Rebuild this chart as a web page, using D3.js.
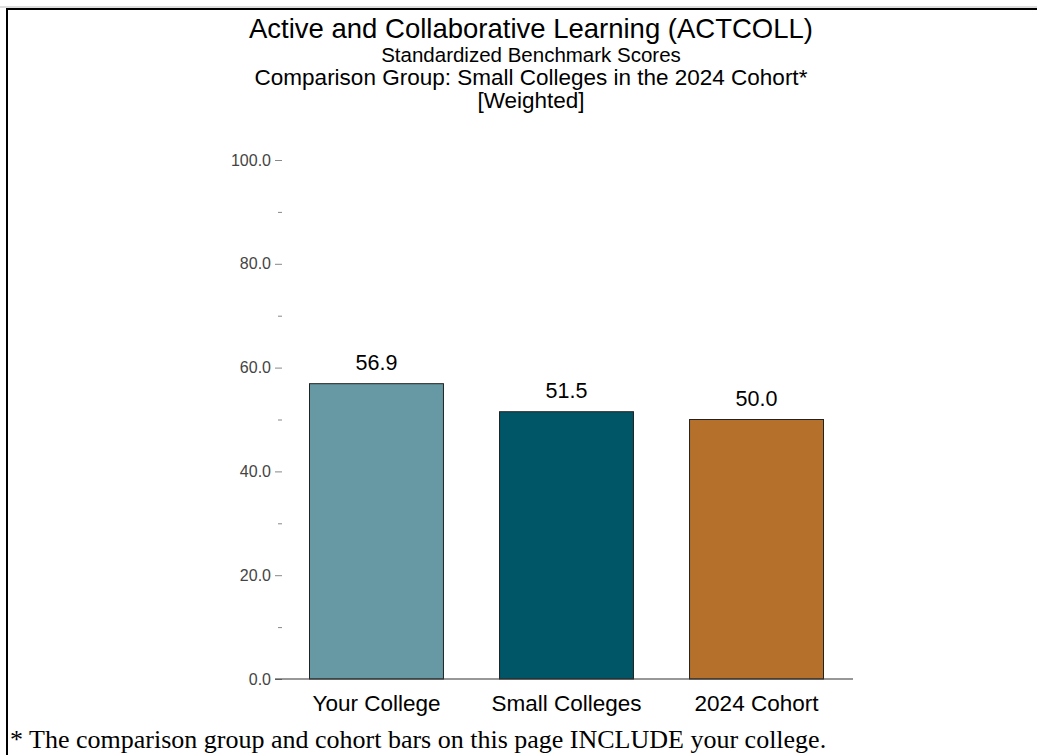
<!DOCTYPE html>
<html>
<head>
<meta charset="utf-8">
<script src="https://cdn.jsdelivr.net/npm/d3@7"></script>
<style>
  html, body { margin: 0; padding: 0; background: #fff; }
  svg { display: block; }
</style>
</head>
<body>
<svg id="chart" width="1037" height="755"></svg>
<script>
const categories = ["Your College", "Small Colleges", "2024 Cohort"];
const values = [56.9, 51.5, 50.0];
const colors = ["#6699a3", "#005566", "#b5702c"];
const majorTicks = [0, 20, 40, 60, 80, 100];
const minorTicks = [10, 30, 50, 70, 90];
const titleLines = [
  "Active and Collaborative Learning (ACTCOLL)",
  "Standardized Benchmark Scores",
  "Comparison Group: Small Colleges in the 2024 Cohort*",
  "[Weighted]"
];
const footnote = "* The comparison group and cohort bars on this page INCLUDE your college.";

const svg = d3.select("#chart");
const sans = "'Liberation Sans', Arial, sans-serif";

// frame
svg.append("line").attr("x1", 0).attr("x2", 1037).attr("y1", 7).attr("y2", 7)
  .attr("stroke", "#bbb").attr("stroke-width", 1);
svg.append("line").attr("x1", 6).attr("x2", 1037).attr("y1", 9).attr("y2", 9)
  .attr("stroke", "#000").attr("stroke-width", 2);
svg.append("line").attr("x1", 7).attr("x2", 7).attr("y1", 8).attr("y2", 755)
  .attr("stroke", "#000").attr("stroke-width", 2);

// titles
const titleY = [38, 62, 85, 108];
const titleSize = [27.5, 20.5, 22.5, 22.5];
titleLines.forEach((t, i) => {
  svg.append("text").attr("x", 531).attr("y", titleY[i])
    .attr("text-anchor", "middle").attr("font-family", sans)
    .attr("font-size", titleSize[i]).attr("fill", "#000").text(t);
});

const x = d3.scaleBand().domain(categories).range([281, 852])
  .paddingInner(0.295).paddingOuter(0.15);
const y = d3.scaleLinear().domain([0, 100]).range([679, 160]);

// y axis ticks
const yAxis = d3.axisLeft(y).tickValues(majorTicks).tickFormat(d3.format(".1f"))
  .tickSize(7).tickPadding(4);
const gy = svg.append("g").attr("transform", "translate(282,0)").call(yAxis);
gy.select(".domain").remove();
gy.selectAll(".tick line").attr("stroke", "#888");
gy.selectAll(".tick text").attr("font-family", sans).attr("font-size", 16).attr("fill", "#444");
const yMinor = d3.axisLeft(y).tickValues(minorTicks).tickFormat("").tickSize(4);
const gm = svg.append("g").attr("transform", "translate(282,0)").call(yMinor);
gm.select(".domain").remove();
gm.selectAll(".tick line").attr("stroke", "#888");

// bars
svg.append("g").selectAll("rect").data(categories).join("rect")
  .attr("x", d => x(d)).attr("width", x.bandwidth())
  .attr("y", (d, i) => y(values[i])).attr("height", (d, i) => y(0) - y(values[i]))
  .attr("fill", (d, i) => colors[i]).attr("stroke", "#222").attr("stroke-width", 1);

// baseline
svg.append("line").attr("x1", 275).attr("x2", 853).attr("y1", y(0)).attr("y2", y(0))
  .attr("stroke", "#333").attr("stroke-width", 1.2);

// value labels
svg.append("g").selectAll("text").data(categories).join("text")
  .attr("x", d => x(d) + x.bandwidth() / 2).attr("y", (d, i) => y(values[i]) - 14)
  .attr("text-anchor", "middle").attr("font-family", sans).attr("font-size", 21.5)
  .attr("fill", "#000").text((d, i) => values[i].toFixed(1));

// category labels
const xAxis = d3.axisBottom(x).tickSize(0).tickPadding(16);
const gx = svg.append("g").attr("transform", `translate(0,${y(0)})`).call(xAxis);
gx.select(".domain").remove();
gx.selectAll(".tick text").attr("font-family", sans).attr("font-size", 22.5).attr("fill", "#000");

// footnote
svg.append("text").attr("x", 10).attr("y", 748).attr("font-family", "'Liberation Serif', 'Times New Roman', serif")
  .attr("font-size", 26).attr("fill", "#000").text(footnote);
</script>
</body>
</html>
